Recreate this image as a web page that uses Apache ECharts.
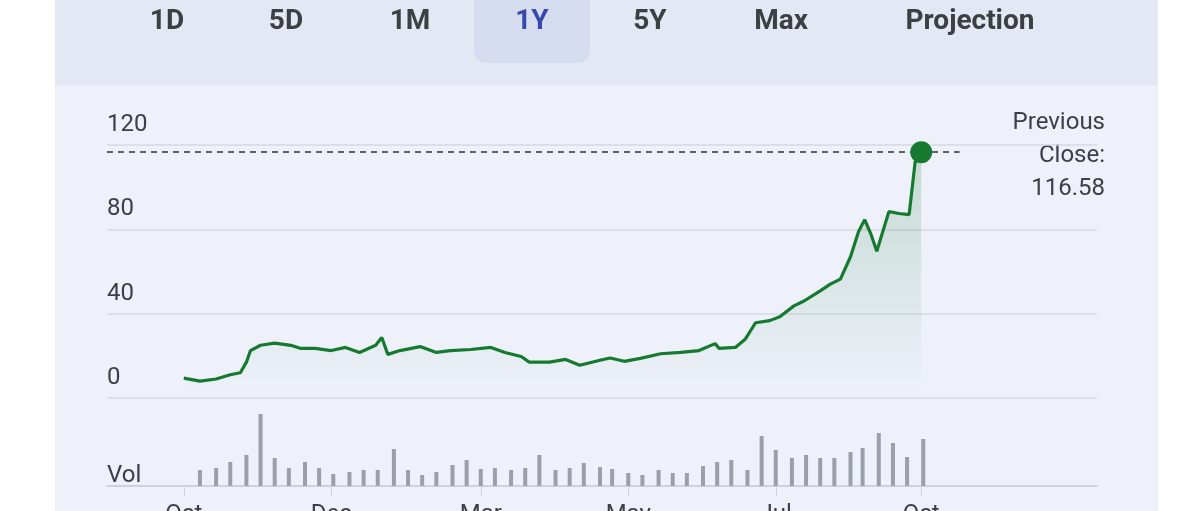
<!DOCTYPE html>
<html><head><meta charset="utf-8">
<script src="https://cdn.jsdelivr.net/npm/echarts@6/dist/echarts.min.js"></script>
<style>html,body{margin:0;padding:0;background:#fff}#c{width:1200px;height:511px}</style>
</head><body><div id="c"></div>
<script>
const priceDays = [0,8,16,23,28,31,33,38,45,53,58,65,73,80,87,95,98,101,107,117,125,132,142,152,159,167,171,181,189,196,206,211,218,226,236,246,255,263,265,273,278,283,290,295,302,307,315,320,325,330,334,337,340,343,349,354,359,362,365];
const priceVals = [9.4,8,9,11,12,17,22.5,25,26,25,23.5,23.5,22.5,24,21.6,25,28.7,20.7,22.5,24.4,21.6,22.5,23,24,21.6,19.7,17,17,18.3,15.5,17.9,19,17.4,18.8,21,21.6,22.5,25.8,23.5,24,28,35.7,36.7,38.5,43.7,46,50.8,54,56.4,67,79,84.6,78,69.6,88.4,87.5,87,112,116.58];
const volDays = [8,16,23,31,38,45,52,60,67,74,82,89,96,104,111,118,125,133,140,147,154,162,169,176,184,191,198,206,212,220,227,235,242,249,257,264,271,279,286,293,301,308,315,322,330,336,344,351,358,366];
const volVals = [16,18,24,31,72,28,18,24,18,12,14,16,16,37,16,11,14,21,26,17,18,16,18,31,16,18,23,19,17,13,11,16,13,13,20,24,26,16,50,36,28,31,28,28,34,38,53,43,29,47];
const tickDays = [0,73,147,220,293,365];
const tickLabels = ['Oct','Dec','Mar','May','Jul','Oct'];
const buttons = ['1D','5D','1M','1Y','5Y','Max','Projection'];
const buttonX = [167,286,410,532,650,781,970];
const prevClose = 116.58;

const chart = echarts.init(document.getElementById('c'));
const font = 'Roboto, "Noto Sans", sans-serif';
const gfx = [
  {type:'rect',shape:{x:55,y:0,width:1103,height:85},style:{fill:'#e4e8f4'},z:-10},
  {type:'rect',shape:{x:55,y:85,width:1103,height:426},style:{fill:'#eef1fa'},z:-10},
  {type:'rect',shape:{x:474,y:-12,width:116,height:75,r:12},style:{fill:'#d6dcef'},z:-9},
  {type:'text',x:1105,y:106,style:{text:'Previous\nClose:\n'+prevClose.toFixed(2),fill:'#3c4043',font:'24px '+font,align:'right',verticalAlign:'top',lineHeight:33}},
  {type:'text',x:107,y:476,style:{text:'Vol',fill:'#3c4043',font:'24px '+font,align:'left',verticalAlign:'middle'}}
];
buttons.forEach((b,i)=>gfx.push({type:'text',x:buttonX[i],y:22,style:{text:b,fill:b==='1Y'?'#3949ab':'#3c4043',font:'bold 28px '+font,align:'center',verticalAlign:'middle'}}));

chart.setOption({
  animation:false,
  graphic:gfx,
  grid:[{left:107,right:103,top:145,height:253,outerBoundsMode:'none'},{left:107,right:103,top:400,height:86,outerBoundsMode:'none'}],
  xAxis:[
    {type:'value',gridIndex:0,min:-38,max:452,show:false},
    {type:'value',gridIndex:1,min:-38,max:452,
     axisLine:{show:true,lineStyle:{color:'#c4c7ce',width:1.5}},
     axisTick:{show:true,customValues:tickDays,length:10,inside:false,lineStyle:{color:'#d0d3da'}},
     axisLabel:{show:true,customValues:tickDays,formatter:(v)=>tickLabels[tickDays.indexOf(v)]||'',margin:17,color:'#3c4043',fontSize:24,fontFamily:font,verticalAlign:'top'},
     splitLine:{show:false}}
  ],
  yAxis:[
    {type:'value',gridIndex:0,min:0,max:120,interval:40,
     axisLine:{show:false},axisTick:{show:false},
     axisLabel:{inside:true,align:'left',verticalAlign:'bottom',margin:0,padding:[0,0,8,0],color:'#3c4043',fontSize:24,fontFamily:font},
     splitLine:{lineStyle:{color:'#d6d9e0',width:1.5}}},
    {type:'value',gridIndex:1,min:0,max:86,show:false,splitLine:{show:false}}
  ],
  series:[
    {type:'line',xAxisIndex:0,yAxisIndex:0,data:priceDays.map((d,i)=>[d,priceVals[i]]),
     showSymbol:false,symbol:'none',lineStyle:{color:'#157a2f',width:3.2},
     areaStyle:{color:new echarts.graphic.LinearGradient(0,0,0,1,[{offset:0,color:'rgba(21,122,47,0.28)'},{offset:1,color:'rgba(21,122,47,0)'}])},
     markLine:{silent:true,symbol:'none',label:{show:false},lineStyle:{color:'#5f6368',type:[6,5],width:2},
       data:[[{coord:[-38,prevClose]},{coord:[384,prevClose]}]]},
     markPoint:{symbol:'circle',symbolSize:22,itemStyle:{color:'#157a2f'},label:{show:false},
       data:[{coord:[365,prevClose]}]}},
    {type:'bar',xAxisIndex:1,yAxisIndex:1,data:volDays.map((d,i)=>[d,volVals[i]]),
     barWidth:4,itemStyle:{color:'#9aa0a6'}}
  ]
});
</script></body></html>
